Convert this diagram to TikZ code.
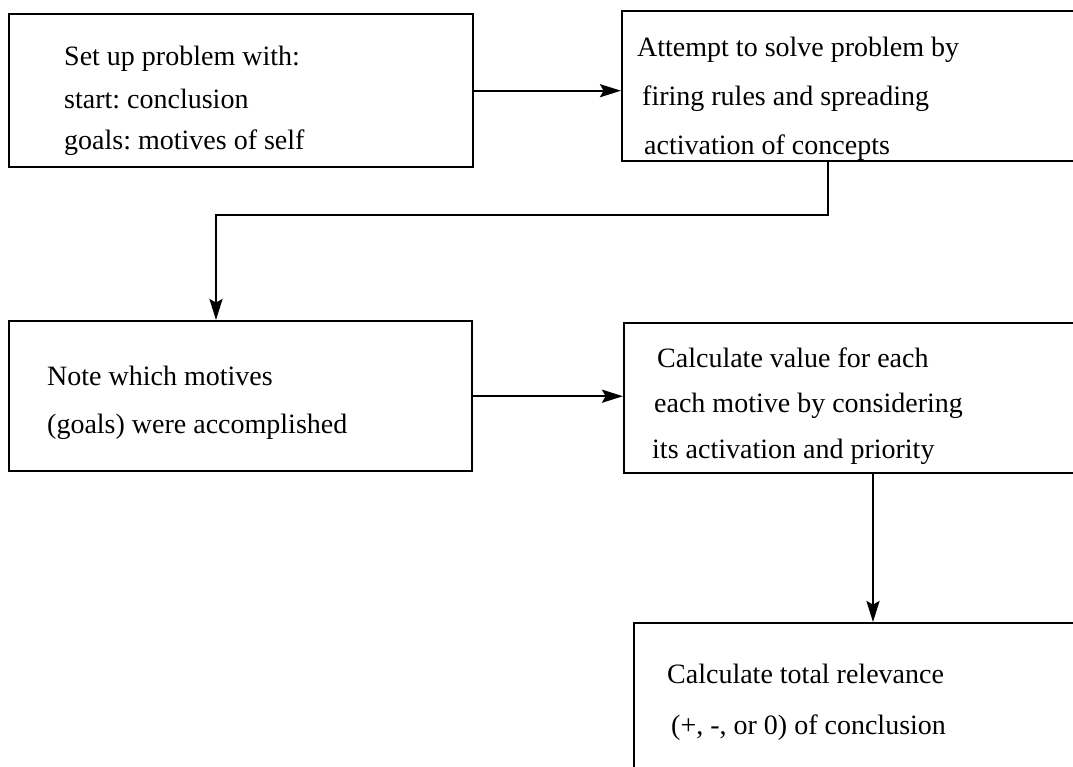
\documentclass[tikz,border=0pt]{standalone}
\usepackage{fontspec}
\setmainfont{Liberation Serif}
\usetikzlibrary{arrows.meta}
\frenchspacing

\begin{document}
\begin{tikzpicture}[
  x = 0.5pt, y = -0.5pt,
  line width = 1.2pt,
  > = {Stealth[length = 10.5pt, width = 6.5pt, inset = 1.8pt]},
  stage/.style = {draw, rectangle, anchor = north west, inner sep = 0pt},
  entry/.style = {anchor = base west, inner sep = 0pt,
                  font = \fontsize{14}{17}\selectfont},
  ]

  \useasboundingbox (0, 0) rectangle (1073, 767);
  \clip (0, 0) rectangle (1073, 767);

  \node at (8, 13)
  [stage, minimum width = 232pt, minimum height = 76.5pt, name = Setup] {};

  \node at (621, 10)
  [stage, minimum width = 239.5pt, minimum height = 75pt, name = Attempt] {};

  \node at (8, 320)
  [stage, minimum width = 231.5pt, minimum height = 75pt, name = Note] {};

  \node at (623, 322)
  [stage, minimum width = 239pt, minimum height = 75pt, name = Calculate] {};

  \node at (633, 622)
  [stage, minimum width = 235pt, minimum height = 100pt, name = Total] {};

  \node at (63, 65) [entry, name = SetupOne] {Set up problem with:};
  \node at (63, 108) [entry, name = SetupTwo] {start: conclusion};
  \node at (63, 149) [entry, name = SetupThree] {goals: motives of self};

  \node at (636, 56) [entry, name = AttemptOne] {Attempt to solve problem by};
  \node at (641, 105) [entry, name = AttemptTwo] {firing rules and spreading};
  \node at (643, 154) [entry, name = AttemptThree] {activation of concepts};

  \node at (46, 385) [entry, name = NoteOne] {Note which motives};
  \node at (46, 433) [entry, name = NoteTwo] {(goals) were accomplished};

  \node at (656, 367) [entry, name = CalculateOne] {Calculate value for each};
  \node at (653, 412) [entry, name = CalculateTwo] {each motive by considering};
  \node at (651, 458) [entry, name = CalculateThree] {its activation and priority};

  \node at (666, 683) [entry, name = TotalOne] {Calculate total relevance};
  \node at (670, 734) [entry, name = TotalTwo] {(+, -, or 0) of conclusion};

  \coordinate (TurnA) at (828, 215);
  \coordinate (TurnB) at (216, 215);
  \coordinate (Drop) at (873, 550);

  \draw [->] (Setup.east) to (Setup.east -| Attempt.west);

  \draw [->] (Attempt.south -| TurnA) -- (TurnA) -- (TurnB) -- (TurnB |- Note.north);

  \draw [->] (Note.east) to (Note.east -| Calculate.west);

  \draw [->] (Calculate.south -| Drop) to (Drop |- Total.north);

\end{tikzpicture}
\end{document}
